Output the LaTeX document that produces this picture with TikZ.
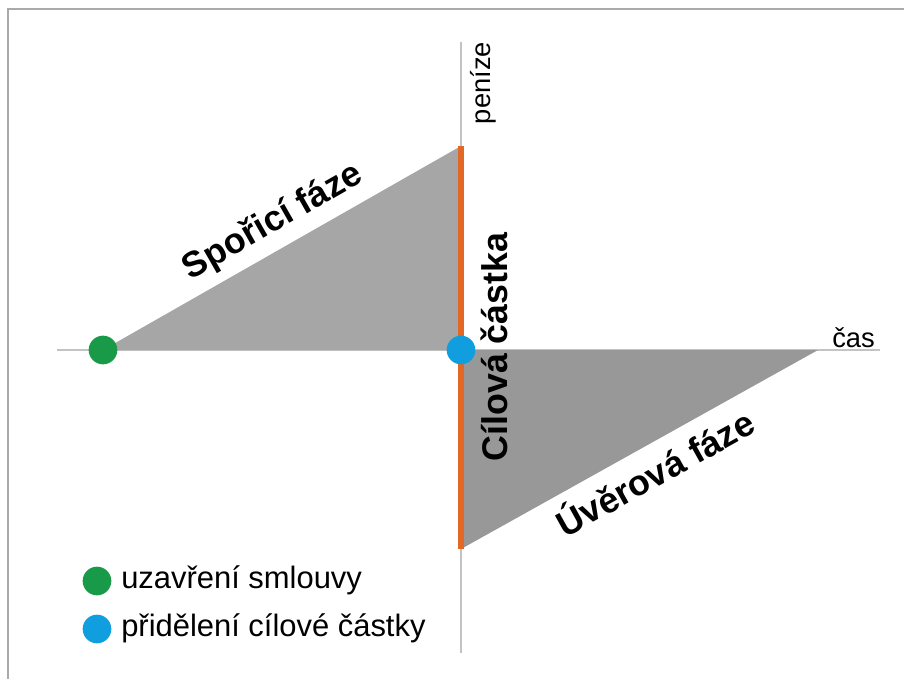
\documentclass[tikz,border=0pt]{standalone}
\usepackage{fontspec}
\setmainfont{Liberation Sans}
\definecolor{phaseorange}{RGB}{226,104,40}
\definecolor{dotgreen}{RGB}{24,154,72}
\definecolor{dotblue}{RGB}{16,158,222}
\definecolor{upgray}{RGB}{166,166,166}
\definecolor{lowgray}{RGB}{152,152,152}
\definecolor{axisgray}{RGB}{195,195,195}
\definecolor{framegray}{RGB}{170,170,170}

\begin{document}
\begin{tikzpicture}[x=0.75pt,y=-0.75pt,
  axis line/.style={draw=axisgray,line width=0.9pt},
  phase label/.style={font=\fontsize{26.8}{29}\selectfont\bfseries,inner sep=0pt},
  axis label/.style={font=\fontsize{20.5}{23}\selectfont,inner sep=0pt},
  legend label/.style={font=\fontsize{23.2}{26}\selectfont,inner sep=0pt,anchor=base west},
  dot/.style={circle,inner sep=0pt,minimum size=21.5pt}]

  \useasboundingbox (0,0) rectangle (904,679);
  \draw[framegray,line width=1.1pt] (904,9) -- (8,9) -- (8,679);

  % axes
  \coordinate (xleft) at (57,350);
  \coordinate (xright) at (880,350);
  \coordinate (ytop) at (461,42);
  \coordinate (ybottom) at (461,653);
  \draw[axis line] (xleft) -- (xright);
  \draw[axis line] (ytop) -- (ybottom);

  % phases
  \coordinate (O) at (461,350);
  \coordinate (start) at (103,350);
  \coordinate (top) at (461,146);
  \coordinate (bottom) at (461,549);
  \coordinate (end) at (818,350);
  \fill[upgray] (start) -- (top) -- (O) -- cycle;
  \fill[lowgray] (O) -- (end) -- (bottom) -- cycle;
  \draw[phaseorange,line width=3.8pt] (top) -- (bottom);

  \node[dot,fill=dotgreen] (contract) at (start) {};
  \node[dot,fill=dotblue] (allot) at (O) {};

  \node[phase label,rotate=29.7] (saving) at (273,222) {Spořicí fáze};
  \node[phase label,rotate=29.1] (loan) at (654,471) {Úvěrová fáze};
  \node[phase label,rotate=90] (target) at (494,347) {Cílová částka};

  \node[axis label,rotate=90] (money) at (483,83) {peníze};
  \node[axis label,anchor=base west] (time) at (832,347) {čas};

  % legend
  \node[dot,fill=dotgreen] (key1) at (97,581) {};
  \node[dot,fill=dotblue] (key2) at (97,629) {};
  \node[legend label] (text1) at (121,588) {uzavření smlouvy};
  \node[legend label] (text2) at (121,636) {přidělení cílové částky};
\end{tikzpicture}
\end{document}
